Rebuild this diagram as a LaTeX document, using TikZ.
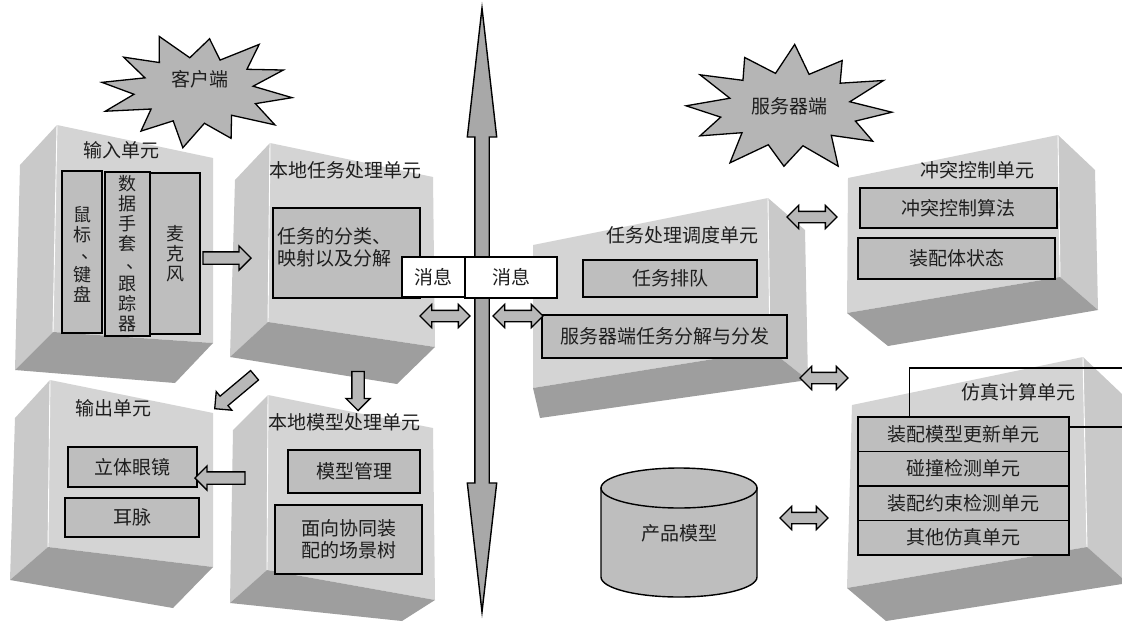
\documentclass[tikz,border=0pt]{standalone}
\usepackage{fontspec}
\newfontfamily\cjk{Noto Sans CJK SC}
\usetikzlibrary{shapes.arrows}
\definecolor{frontg}{HTML}{D4D4D4}
\definecolor{sideg}{HTML}{C9C9C9}
\definecolor{bottomg}{HTML}{9E9E9E}
\definecolor{innerg}{HTML}{BEBEBE}
\definecolor{arrowg}{HTML}{B8B8B8}
\definecolor{starg}{HTML}{B5B5B5}
\definecolor{axisg}{HTML}{A8A8A8}
\definecolor{textc}{HTML}{1E1E1E}
\newcommand{\vdun}{\kern0.45em\raisebox{0.12em}{、}\kern-0.45em}
\begin{document}
\begin{tikzpicture}[x=1pt,y=-1pt,
  every node/.style={font=\cjk\fontsize{19}{22}\selectfont, text=textc},
  facefront/.style={fill=frontg},
  faceside/.style={fill=sideg},
  facebottom/.style={fill=bottomg},
  hiedge/.style={draw=white, line width=0.9pt},
  inbox/.style={draw=black, line width=1.5pt, fill=innerg, inner sep=0pt},
  msgbox/.style={draw=black, line width=1.5pt, fill=white, inner sep=0pt},
  sarrow/.style={single arrow, draw=black, line width=1.3pt, fill=arrowg,
    inner xsep=0pt, inner ysep=5.5pt, single arrow head extend=6pt,
    single arrow tip angle=90, minimum height=#1},
  darrow/.style={double arrow, draw=black, line width=1.3pt, fill=arrowg,
    inner xsep=0pt, inner ysep=5pt, double arrow head extend=6pt,
    double arrow tip angle=90, minimum height=#1},
  starsty/.style={draw=black, line width=1.3pt, fill=starg},
  vtext/.style={align=center, font=\cjk\fontsize{18}{20}\selectfont}
]
\useasboundingbox (0,0) rectangle (1122,622);
\fill[white] (0,0) rectangle (1122,622);

% ---------- stars ----------
\draw[starsty] plot[samples at={0,15,...,345}, variable=\a]
  ({197+ifthenelse(mod(\a,30)==0,96,60)*(1+0.06*sin(5*\a))*cos(\a+8)},
   {90+ifthenelse(mod(\a,30)==0,55,33)*(1+0.06*sin(5*\a))*sin(\a+8)}) -- cycle;
\node (client) at (200,79) {客户端};
\draw[starsty] plot[samples at={0,15,...,345}, variable=\a]
  ({789+ifthenelse(mod(\a,30)==0,103,66)*(1+0.06*sin(7*\a))*cos(\a+3)},
   {109+ifthenelse(mod(\a,30)==0,61,37)*(1+0.06*sin(7*\a))*sin(\a+3)}) -- cycle;
\node (server) at (789,106) {服务器端};

% ---------- input unit box ----------
\fill[faceside] (57,125) -- (20,165) -- (15,370) -- (53,332) -- cycle;
\fill[facefront] (57,125) -- (213,158) -- (213,343) -- (53,332) -- cycle;
\fill[facebottom] (53,332) -- (213,343) -- (175,383) -- (15,370) -- cycle;
\draw[hiedge] (57,125) -- (53,332);
\node (inputlbl) at (121,150) {输入单元};
\node[inbox, minimum width=40, minimum height=162] (mouse) at (82,252) {};
\node[vtext] (mousetxt) at (82,254) {鼠\\标\\\vdun\\键\\盘};
\node[inbox, minimum width=50, minimum height=161] (mic) at (175,253.5) {};
\node[inbox, minimum width=45, minimum height=164] (glove) at (127.5,254) {};
\node[vtext] (glovetxt) at (127.5,254) {数\\据\\手\\套\\\vdun\\跟\\踪\\器};
\node[vtext] (mictxt) at (175,254) {麦\\克\\风};

% ---------- local task box ----------
\fill[faceside] (270,143) -- (235,180) -- (230,357) -- (268,322) -- cycle;
\fill[facefront] (270,143) -- (433,177) -- (435,347) -- (268,322) -- cycle;
\fill[facebottom] (268,322) -- (435,347) -- (397,384) -- (230,357) -- cycle;
\draw[hiedge] (270,143) -- (268,322);
\node (tasklbl) at (345,170) {本地任务处理单元};
\node[inbox, minimum width=147, minimum height=90] (classify) at (346.5,253) {};
\node[anchor=west, align=left, inner sep=0pt] (classifytxt) at (277,247.5) {任务的分类、\\映射以及分解};

% ---------- output box ----------
\fill[faceside] (50,380) -- (15,418) -- (10,580) -- (48,547) -- cycle;
\fill[facefront] (50,380) -- (213,413) -- (213,567) -- (48,547) -- cycle;
\fill[facebottom] (48,547) -- (213,567) -- (173,608) -- (10,580) -- cycle;
\draw[hiedge] (50,380) -- (48,547);
\node (outlbl) at (113,408) {输出单元};
\node[inbox, minimum width=129, minimum height=40] (glasses) at (132.5,467) {立体眼镜};
\node[inbox, minimum width=134, minimum height=39] (ear) at (132,517.5) {耳脉};

% ---------- local model box ----------
\fill[faceside] (268,395) -- (233,430) -- (230,603) -- (267,570) -- cycle;
\fill[facefront] (268,395) -- (433,428) -- (435,600) -- (267,570) -- cycle;
\fill[facebottom] (267,570) -- (435,600) -- (402,621) -- (230,603) -- cycle;
\draw[hiedge] (268,395) -- (267,570);
\node (modellbl) at (344,422) {本地模型处理单元};
\node[inbox, minimum width=132, minimum height=43] (mgmt) at (354,471.5) {模型管理};
\node[inbox, minimum width=147, minimum height=69, align=center] (scene) at (348.5,539.5) {面向协同装\\配的场景树};

% ---------- scheduling box ----------
\fill[faceside] (768,198) -- (805,230) -- (808,380) -- (770,350) -- cycle;
\fill[facefront] (533,245) -- (768,198) -- (770,350) -- (533,388) -- cycle;
\fill[facebottom] (533,388) -- (770,350) -- (808,380) -- (540,418) -- cycle;
\draw[hiedge] (768,198) -- (770,350);
\node (schedlbl) at (682,235) {任务处理调度单元};
\node[inbox, minimum width=174, minimum height=37] (queue) at (670,278.5) {任务排队};
\node[inbox, minimum width=245, minimum height=43] (dispatch) at (664.5,336.5) {服务器端任务分解与分发};

% ---------- conflict box ----------
\fill[faceside] (1058,135) -- (1095,170) -- (1098,310) -- (1060,277) -- cycle;
\fill[facefront] (848,178) -- (1058,135) -- (1060,277) -- (847,313) -- cycle;
\fill[facebottom] (847,313) -- (1060,277) -- (1098,310) -- (888,346) -- cycle;
\draw[hiedge] (1058,135) -- (1060,277);
\node (conflbl) at (977,170) {冲突控制单元};
\node[inbox, minimum width=197, minimum height=40] (algo) at (958.5,208) {冲突控制算法};
\node[inbox, minimum width=197, minimum height=41] (state) at (956.5,258.5) {装配体状态};

% ---------- simulation box ----------
\fill[faceside] (1083,357) -- (1122,394) -- (1122,578) -- (1087,547) -- cycle;
\fill[facefront] (852,405) -- (1083,357) -- (1087,547) -- (847,588) -- cycle;
\fill[facebottom] (847,588) -- (1087,547) -- (1122,578) -- (1122,584) -- (886,621) -- cycle;
\draw[hiedge] (1083,357) -- (1087,547);
\node (simlbl) at (1018,392) {仿真计算单元};
\node[inbox, minimum width=211, minimum height=34.5] (upd) at (963.5,434) {装配模型更新单元};
\node[inbox, minimum width=211, minimum height=34.5] (coll) at (963.5,468.5) {碰撞检测单元};
\node[inbox, minimum width=211, minimum height=34.5] (cons) at (963.5,503) {装配约束检测单元};
\node[inbox, minimum width=211, minimum height=34.5] (other) at (963.5,537.5) {其他仿真单元};
\coordinate (e1) at (1122,368);
\coordinate (e2) at (1122,427);
\draw[line width=1.4pt] ([xshift=52pt]upd.north west) |- (e1);
\draw[line width=1.4pt] ([yshift=7pt]upd.east) -- (e2);

% ---------- product model cylinder ----------
\filldraw[draw=black, line width=1.4pt, fill=innerg]
  (601,488) -- (601,577) arc[start angle=180, end angle=0, x radius=78, y radius=20]
  -- (757,488) -- cycle;
\filldraw[draw=black, line width=1.4pt, fill=innerg] (679,488) ellipse[x radius=78, y radius=20];
\node (db) at (679,533) {产品模型};

% ---------- axis ----------
\node[double arrow, draw=black, line width=1.4pt, fill=axisg, inner xsep=0pt,
  inner ysep=6.5pt, double arrow head extend=7.5pt, double arrow tip angle=13,
  minimum height=604, rotate=90] (axis) at (482,310) {};

% ---------- messages ----------
\node[msgbox, minimum width=63, minimum height=40] (msg1) at (433.5,277) {消息};
\node[msgbox, minimum width=92, minimum height=41] (msg2) at (511,277.5) {消息};

% ---------- block arrows ----------
\node[sarrow=48] (a1) at (224,258) {};
\node[sarrow=52, rotate=220] (a2) at (237,390) {};
\node[sarrow=39, rotate=270] (a3) at (358,388) {};
\node[sarrow=50, rotate=180] (a4) at (223,478) {};
\node[darrow=50] (d1) at (445,316) {};
\node[darrow=50] (d2) at (518,316) {};
\node[darrow=50] (d3) at (812,217) {};
\node[darrow=48] (d4) at (824,378) {};
\node[darrow=48] (d5) at (804,518) {};
\end{tikzpicture}
\end{document}
